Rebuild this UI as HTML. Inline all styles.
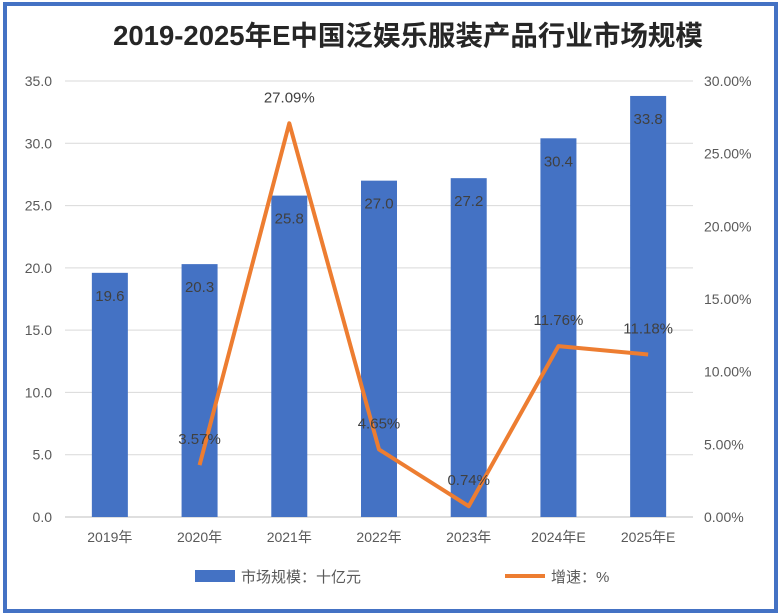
<!DOCTYPE html>
<html><head><meta charset="utf-8"><style>
html,body{margin:0;padding:0;background:#fff;}
svg{display:block;font-family:"Liberation Sans","Noto Sans CJK SC",sans-serif;}
</style></head><body>
<svg id="chart" width="780" height="615">
<rect x="5" y="4" width="771" height="607" fill="#fff" stroke="#4472C4" stroke-width="4"/>
<text x="408" y="45" text-anchor="middle" font-size="27.5" font-weight="bold" fill="#262626">2019-2025年E中国泛娱乐服装产品行业市场规模</text>
<g id="grid"></g><g id="bars"></g><g id="line"></g><g id="labels"></g>
<g>
<rect x="195" y="570" width="40" height="12" fill="#4472C4"/>
<text x="241" y="582" font-size="15" fill="#595959">市场规模：十亿元</text>
<line x1="505" y1="576" x2="545" y2="576" stroke="#ED7D31" stroke-width="4"/>
<text x="551" y="582" font-size="15" fill="#595959">增速：%</text>
</g>
</svg>
<script>
const categories=["2019年","2020年","2021年","2022年","2023年","2024年E","2025年E"];
const marketSize=[19.6,20.3,25.8,27.0,27.2,30.4,33.8];
const growth=[null,3.57,27.09,4.65,0.74,11.76,11.18];
const leftTicks=[0,5,10,15,20,25,30,35];
const rightTicks=[0,5,10,15,20,25,30];
const NS="http://www.w3.org/2000/svg";
const x0=65,x1=693,y0=517,yTop=81;
const band=(x1-x0)/categories.length;
const xC=i=>x0+band*(i+0.5);
const yL=v=>y0-(v/35)*(y0-yTop);
const yR=v=>y0-(v/30)*(y0-yTop);
function mk(tag,attrs,parent,txt){const e=document.createElementNS(NS,tag);for(const k in attrs)e.setAttribute(k,attrs[k]);if(txt!=null)e.textContent=txt;document.getElementById(parent).appendChild(e);return e;}
leftTicks.forEach(t=>{
  const g=mk('line',{x1:x0,x2:x1,y1:yL(t),y2:yL(t),stroke:t===0?'#bfbfbf':'#d9d9d9','stroke-width':1},'grid');
  
  
  const l=mk('text',{x:52,y:yL(t)+5,'text-anchor':'end','font-size':14,fill:'#595959'},'grid',t.toFixed(1));
  
  
});
rightTicks.forEach(t=>{
  const l=mk('text',{x:704,y:yR(t)+5,'font-size':14,fill:'#595959'},'grid',t.toFixed(2)+'%');
  
  
});
categories.forEach((c,i)=>{
  const l=mk('text',{x:xC(i),y:542,'text-anchor':'middle','font-size':14,fill:'#595959'},'grid',c);
  
  
  const b=mk('rect',{x:xC(i)-18,y:yL(marketSize[i]),width:36,height:y0-yL(marketSize[i]),fill:'#4472C4'},'bars');
  
  
  const bl=mk('text',{x:xC(i),y:yL(marketSize[i])+28,'text-anchor':'middle','font-size':15,fill:'#404040'},'labels',marketSize[i].toFixed(1));
  
  
});
const pts=[];
growth.forEach((g,i)=>{ if(g!=null){pts.push(xC(i)+','+yR(g));
  const t=mk('text',{x:xC(i),y:yR(g)-21,'text-anchor':'middle','font-size':15,fill:'#404040'},'labels',g.toFixed(2)+'%');
  
  }});
const pl=mk('polyline',{points:pts.join(' '),fill:'none',stroke:'#ED7D31','stroke-width':4,'stroke-linejoin':'round'},'line');


</script>
</body></html>
